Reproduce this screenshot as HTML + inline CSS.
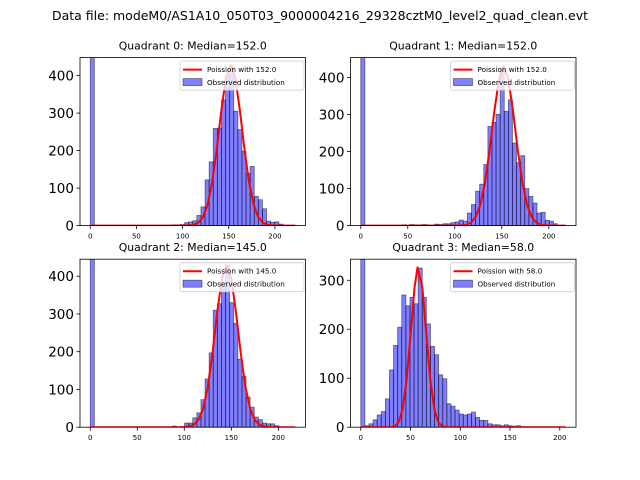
<!DOCTYPE html>
<html><head><meta charset="utf-8"><style>
html,body{margin:0;padding:0;background:#fff}
svg{display:block;font-family:"DejaVu Sans","Liberation Sans",sans-serif}
</style></head><body>
<svg id="fig" width="640" height="480" viewBox="0 0 640 480">
<text x="320" y="20" font-size="12.5" text-anchor="middle" textLength="536" lengthAdjust="spacingAndGlyphs">Data file: modeM0/AS1A10_050T03_9000004216_29328cztM0_level2_quad_clean.evt</text>
</svg>
<script>
const titles = ["Quadrant 0: Median=152.0","Quadrant 1: Median=152.0","Quadrant 2: Median=145.0","Quadrant 3: Median=58.0"];
const legendLabels = ["Poission with 152.0","Poission with 152.0","Poission with 145.0","Poission with 58.0"];
const binMax = [222, 218, 218, 206];
const yMax = [448, 454, 445, 343];
const xTicks = [0, 50, 100, 150, 200];
const yTicks0 = [0, 100, 200, 300, 400];
const yTicks1 = [0, 100, 200, 300, 400];
const yTicks2 = [0, 100, 200, 300, 400];
const yTicks3 = [0, 100, 200, 300];
const counts0 = [1000,0,0,0,0,0,0,0,0,0,0,0,0,0,0,0,0,0,1,1,2,2,3,8,10,13,27,50,122,170,259,260,335,400,425,305,256,198,140,158,78,69,45,12,9,10,4,1,0,0];
const counts1 = [1000,0,0,0,0,0,0,0,0,0,2,1,3,2,2,3,2,1,4,3,5,5,8,10,15,12,34,57,93,112,165,268,279,301,421,309,340,223,170,189,100,79,61,34,36,14,12,5,0,0];
const counts2 = [1000,0,0,0,0,0,0,0,0,0,0,0,0,0,0,0,0,0,0,0,3,0,2,11,11,25,38,73,128,197,310,327,385,430,330,275,180,135,80,53,27,20,11,9,9,4,0,0,0,0];
const counts3 = [1000,3,7,15,25,32,58,117,167,204,270,248,265,252,325,265,211,165,148,107,99,48,43,35,27,25,27,31,20,14,14,7,5,5,3,5,3,2,3,1,1,0,1,0,0,0,0,0,0,0];
const curveX0 = [0,105,112,117,122,127,132,137,142,147,152,157,162,167,172,177,182,187,192,200,222];
const curveY0 = [0,0,2,8,22,55,115,204,308,395,428,395,308,204,115,55,22,8,2,0,0];
const curveX1 = [0,105,112,117,122,127,132,137,142,147,152,157,162,167,172,177,182,187,192,200,218];
const curveY1 = [0,0,2,8,22,55,115,204,308,395,430,395,308,204,115,55,22,8,2,0,0];
const curveX2 = [0,98,105,110,115,120,125,130,135,140,145,150,155,160,165,170,175,180,185,193,218];
const curveY2 = [0,0,2,6,19,49,107,197,304,394,429,394,304,197,107,49,19,6,2,0,0];
const curveX3 = [0,30,34,38,42,46,50,54,57,62,66,70,74,78,82,86,90,206];
const curveY3 = [0,0,2,10,36,95,188,284,326,284,188,95,36,10,2,0,0,0];

const allCounts=[counts0,counts1,counts2,counts3];
const allYT=[yTicks0,yTicks1,yTicks2,yTicks3];
const allCX=[curveX0,curveX1,curveX2,curveX3];
const allCY=[curveY0,curveY1,curveY2,curveY3];
const NS="http://www.w3.org/2000/svg";
const svg=document.getElementById('fig');
const boxes=[[80,57.6],[350.5,57.6],[80,259.2],[350.5,259.2]];
const W=225.5,H=168;
function mk(tag,attrs,parent){const e=document.createElementNS(NS,tag);for(const k in attrs)e.setAttribute(k,attrs[k]);(parent||svg).appendChild(e);return e;}
for(let q=0;q<4;q++){
  const [L,T]=boxes[q];
  const m=binMax[q];
  const xmin=-0.05*m,xmax=1.05*m;
  const sx=v=>L+(v-xmin)/(xmax-xmin)*W;
  const sy=v=>T+H-Math.min(v,yMax[q]*1.02)/yMax[q]*H;
  const g=mk('g',{});
  
  
  const clipId='c'+q;
  const cp=mk('clipPath',{id:clipId},g);mk('rect',{x:L,y:T,width:W,height:H},cp);
  const t=mk('text',{x:L+W/2,y:T-8,'font-size':'10.2','text-anchor':'middle',textLength:(148*titles[q].length/24).toFixed(1),lengthAdjust:'spacingAndGlyphs'},g);
  t.textContent=titles[q];
  
  
  const bars=mk('g',{'clip-path':'url(#'+clipId+')'},g);
  
  
  const c=allCounts[q],bw=m/c.length;
  for(let i=0;i<c.length;i++){
    if(c[i]<=0)continue;
    const x0=sx(i*bw),x1=sx((i+1)*bw);
    const r=mk('rect',{x:x0,y:sy(c[i]),width:x1-x0,height:T+H-sy(c[i]),fill:'rgba(0,0,255,0.5)',stroke:'rgba(0,0,0,0.5)','stroke-width':'0.8'},bars);
    
    
  }
  const cx=allCX[q],cy=allCY[q];
  let d='';for(let i=0;i<cx.length;i++)d+=(i?'L':'M')+sx(cx[i]).toFixed(2)+','+sy(cy[i]).toFixed(2);
  const ln=mk('path',{d:d,fill:'none',stroke:'#ff0000','stroke-width':'2','stroke-linejoin':'round','clip-path':'url(#'+clipId+')'},g);
  
  
  const fr=mk('rect',{x:L,y:T,width:W,height:H,fill:'none',stroke:'#000','stroke-width':'0.8'},g);
  
  
  xTicks.forEach(v=>{
    if(v>xmax)return;
    const x=sx(v);
    mk('line',{x1:x,x2:x,y1:T+H,y2:T+H+3.5,stroke:'#000','stroke-width':'0.8'},g);
    const tl=mk('text',{x:x,y:T+H+13,'font-size':'7','text-anchor':'middle'},g);
    tl.textContent=v;
    
    
  });
  allYT[q].forEach(v=>{
    const y=sy(v);
    mk('line',{x1:L,x2:L-3.5,y1:y,y2:y,stroke:'#000','stroke-width':'0.8'},g);
    const tl=mk('text',{x:L-6,y:y+5,'font-size':'13.5','text-anchor':'end'},g);
    tl.textContent=v;
    
    
  });
  const lg=mk('g',{},g);
  
  
  const lx=L+W-125.5,ly=T+3.5;
  mk('rect',{x:lx,y:ly,width:124,height:29,rx:2,fill:'rgba(255,255,255,0.8)',stroke:'#ccc','stroke-width':'0.8'},lg);
  mk('line',{x1:lx+3,x2:lx+22,y1:ly+8.5,y2:ly+8.5,stroke:'#ff0000','stroke-width':'2'},lg);
  mk('rect',{x:lx+3,y:ly+17.5,width:19,height:7,fill:'rgba(0,0,255,0.5)',stroke:'rgba(0,0,0,0.5)','stroke-width':'0.8'},lg);
  const t1=mk('text',{x:lx+27,y:ly+11,'font-size':'7.2'},lg);t1.textContent=legendLabels[q];
  
  
  const t2=mk('text',{x:lx+27,y:ly+24,'font-size':'7.2'},lg);t2.textContent='Observed distribution';
  
  
}
</script>
</body></html>
